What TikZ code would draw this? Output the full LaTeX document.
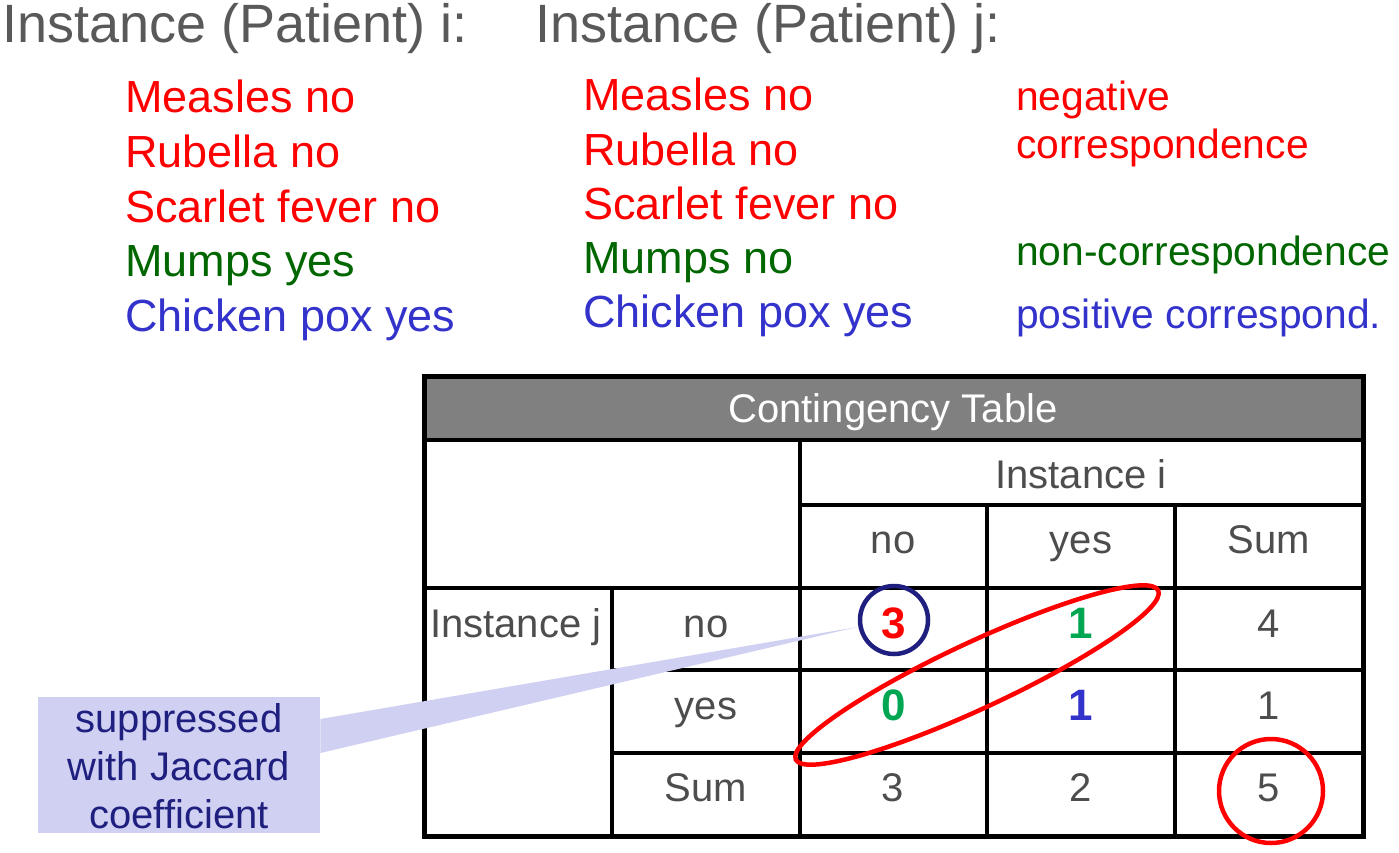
\documentclass[tikz,border=0pt]{standalone}
\usepackage{fontspec}
\setmainfont{Liberation Sans}
\usepackage{tikz}

\definecolor{hdrgray}{HTML}{595959}
\definecolor{dkgreen}{HTML}{006600}
\definecolor{ltblue}{HTML}{3333CC}
\definecolor{okgreen}{HTML}{00A651}
\definecolor{jnavy}{HTML}{1F1F80}
\definecolor{callfill}{HTML}{D0D0F2}
\definecolor{celltxt}{HTML}{4D4D4D}
\definecolor{bandgray}{HTML}{808080}

\begin{document}
\begin{tikzpicture}[
      x = 1pt, y = -1pt,
      every node/.style = {inner sep = 0pt, anchor = base west},
      title/.style = {hdrgray, font = \fontsize{54}{60}\selectfont},
      item/.style = {font = \fontsize{45}{50}\selectfont},
      note/.style = {font = \fontsize{40.8}{45}\selectfont},
      cell/.style = {anchor = base, celltxt, font = \fontsize{40}{45}\selectfont},
      num/.style = {anchor = base, font = \fontsize{44}{48}\selectfont\bfseries},
      grid/.style = {line width = 3.5pt, black}
      ]
    \useasboundingbox (0,0) rectangle (1399,852);

    % patients
    \node[title] (Ti) at (2,42) {Instance (Patient) i:};
    \node[title] (Tj) at (535,42) {Instance (Patient) j:};

    \node[item, red] (Mi) at (125,112) {Measles no}; % 0
    \node[item, red] (Ri) at (125,167) {Rubella no}; % 1
    \node[item, red] (Si) at (125,222) {Scarlet fever no}; % 2
    \node[item, dkgreen] (Ui) at (125,276) {Mumps yes}; % 3
    \node[item, ltblue] (Ci) at (125,331) {Chicken pox yes}; % 4

    \node[item, red] (Mj) at (583,110) {Measles no}; % 0
    \node[item, red] (Rj) at (583,165) {Rubella no}; % 1
    \node[item, red] (Sj) at (583,219) {Scarlet fever no}; % 2
    \node[item, dkgreen] (Uj) at (583,273) {Mumps no}; % 3
    \node[item, ltblue] (Cj) at (583,327) {Chicken pox yes}; % 4

    \node[note, red] (neg) at (1016,110) {negative};
    \node[note, red] (negb) at (1016,158) {correspondence};
    \node[note, dkgreen] (non) at (1016,265) {non-correspondence};
    \node[note, ltblue] (pos) at (1016,328) {positive correspond.};

    % table
    \fill[bandgray] (424,376) rectangle (1363,440);
    \draw[grid] (424,440)--(1363,440);
    \draw[grid] (800,440)--(800,836);
    \draw[grid] (800,505)--(1363,505);
    \draw[grid] (424,588)--(1363,588);
    \draw[grid] (612,588)--(612,836);
    \draw[grid] (612,670)--(1363,670);
    \draw[grid] (612,753)--(1363,753);
    \draw[grid] (987,505)--(987,836);
    \draw[grid] (1175,505)--(1175,836);
    \draw[line width = 5pt] (424,376) rectangle (1363,836);

    \node[cell, white] (head) at (893,422) {Contingency Table};
    \node[cell] (insti) at (1081,488) {Instance i};
    \node[cell] (cno) at (893,553) {no};
    \node[cell] (cyes) at (1081,553) {yes};
    \node[cell] (csum) at (1269,553) {Sum};
    \node[cell, anchor = base west] (instj) at (430,637) {Instance j};
    \node[cell] (rno) at (706,637) {no};
    \node[cell] (ryes) at (706,719) {yes};
    \node[cell] (rsum) at (706,801) {Sum};

    \node[num, red] (a) at (894,638) {3};
    \node[num, okgreen] (b) at (1081,638) {1};
    \node[cell] (ab) at (1269,637) {4};
    \node[num, okgreen] (c) at (894,720) {0};
    \node[num, ltblue] (d) at (1081,720) {1};
    \node[cell] (cd) at (1269,719) {1};
    \node[cell] (ac) at (893,801) {3};
    \node[cell] (bd) at (1081,801) {2};
    \node[cell] (n) at (1269,801) {5};

    % callout
    \node[fill = callfill, minimum width = 282pt, minimum height = 136pt,
          anchor = north west] (jac) at (38,697) {};
    \coordinate (tip) at (857,627);
    \fill[callfill] (jac.north east |- 0,719) -- (tip) -- (jac.north east |- 0,753) -- cycle;
    \node[anchor = center, align = center, jnavy,
          font = \fontsize{40}{48}\selectfont] (jactxt) at (179,766)
          {suppressed\\with Jaccard\\coefficient};

    \begin{scope}[every path/.style = {line width = 4.5pt}]
        \draw[jnavy] (894,620) circle [radius = 34];
        \draw[red] (1271,791) circle [radius = 52];
        \draw[red, rotate around = {25:(977,675)}] (977,675) ellipse [x radius = 200, y radius = 33];
    \end{scope}
  \end{tikzpicture}
\end{document}
